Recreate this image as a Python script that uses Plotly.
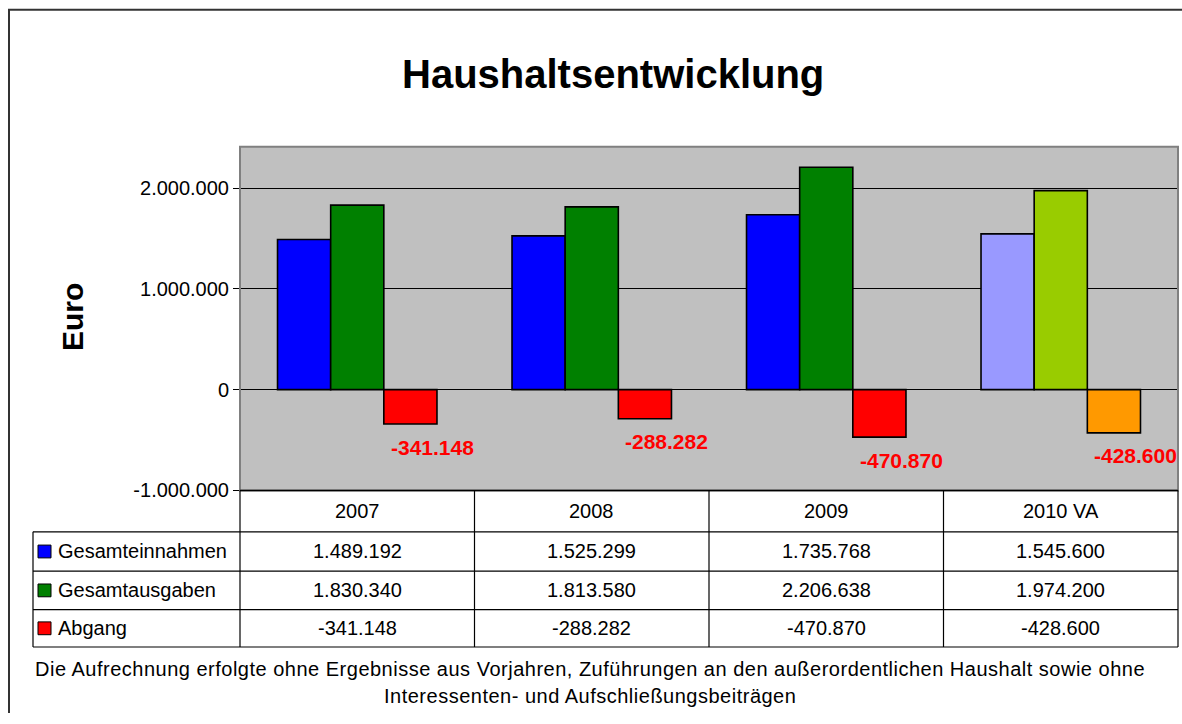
import plotly.graph_objects as go

years = ["2007", "2008", "2009", "2010 VA"]
series_names = ["Gesamteinnahmen", "Gesamtausgaben", "Abgang"]
einnahmen = [1489192, 1525299, 1735768, 1545600]
ausgaben = [1830340, 1813580, 2206638, 1974200]
abgang = [-341148, -288282, -470870, -428600]
y_ticks = [-1000000, 0, 1000000, 2000000]

title_text = "Haushaltsentwicklung"
y_title = "Euro"
footnote = ["Die Aufrechnung erfolgte ohne Ergebnisse aus Vorjahren, Zuführungen an den außerordentlichen Haushalt sowie ohne",
            "Interessenten- und Aufschließungsbeiträgen"]

# styles
base_colors = ["#0000FF", "#008000", "#FF0000"]
plan_colors = ["#9999FF", "#99CC00", "#FF9900"]
FONT = "Liberation Sans, Arial, sans-serif"
W, H = 1182, 724

def px(x):
    return x / W

def py(y):
    return 1 - y / H

def de(v):
    return f"{v:,}".replace(",", ".")

def txt(x, y, text, size=20, color="black", xanchor="center", **kw):
    return dict(x=px(x), y=py(y), xref="paper", yref="paper", text=text, showarrow=False,
                xanchor=xanchor, yanchor="middle", font=dict(family=FONT, size=size, color=color), **kw)

series = [einnahmen, ausgaben, abgang]
fig = go.Figure()
for i, (name, vals) in enumerate(zip(series_names, series)):
    cols = [plan_colors[i] if yr.endswith("VA") else base_colors[i] for yr in years]
    fig.add_trace(go.Bar(x=years, y=vals, name=name,
                         marker=dict(color=cols, line=dict(color="black", width=1.6))))

PL, PR, PT, PB = 240, 1178, 149, 498

annotations = []
# data labels for Abgang (x given as category index)
for idx, v in enumerate(abgang):
    annotations.append(dict(x=idx, y=v, xref="x", yref="y", text=f"<b>{de(v)}</b>",
                            showarrow=False, xshift=75, yshift=-23, xanchor="center", yanchor="middle",
                            font=dict(family=FONT, size=21, color="#FF0000")))

annotations.append(txt(613, 75, f"<b>{title_text}</b>", size=40))
annotations.append(txt(72, 322, f"<b>{y_title}</b>", size=30, textangle=-90))

shapes = []
line_col = "black"
# outer frame
shapes.append(dict(type="line", xref="paper", yref="paper", x0=px(8), x1=px(W), y0=py(10), y1=py(10),
                   line=dict(color="#333333", width=2)))
shapes.append(dict(type="line", xref="paper", yref="paper", x0=px(9), x1=px(9), y0=py(10), y1=py(H),
                   line=dict(color="#333333", width=2)))
# plot area border (gray)
shapes.append(dict(type="rect", xref="paper", yref="paper", x0=px(PL), x1=px(PR), y0=py(PB), y1=py(PT),
                   line=dict(color="#808080", width=2), layer="above"))

# table grid
col_w = (PR - PL) / len(years)
col_x = [PL + i * col_w for i in range(len(years) + 1)]
row_y = [PB, 540, 580, 619, 657]
TL = 33
shapes.append(dict(type="line", xref="paper", yref="paper", x0=px(PL), x1=px(PR), y0=py(PB), y1=py(PB),
                   line=dict(color=line_col, width=1.5)))
for ry in row_y[1:]:
    shapes.append(dict(type="line", xref="paper", yref="paper", x0=px(TL), x1=px(PR), y0=py(ry), y1=py(ry),
                       line=dict(color=line_col, width=1.2)))
shapes.append(dict(type="line", xref="paper", yref="paper", x0=px(TL), x1=px(TL), y0=py(row_y[1]), y1=py(row_y[-1]),
                   line=dict(color=line_col, width=1.2)))
for cx in col_x:
    shapes.append(dict(type="line", xref="paper", yref="paper", x0=px(cx), x1=px(cx), y0=py(PB), y1=py(row_y[-1]),
                       line=dict(color=line_col, width=1.2)))

# header row
for i, yr in enumerate(years):
    cx = (col_x[i] + col_x[i + 1]) / 2
    annotations.append(txt(cx, (row_y[0] + row_y[1]) / 2, yr))
# data rows
for r, (name, vals) in enumerate(zip(series_names, series)):
    cy = (row_y[r + 1] + row_y[r + 2]) / 2
    shapes.append(dict(type="rect", xref="paper", yref="paper", x0=px(38), x1=px(51), y0=py(cy + 6.5), y1=py(cy - 6.5),
                       fillcolor=base_colors[r], line=dict(color="black", width=1)))
    annotations.append(txt(56, cy, name, xanchor="left"))
    for i, v in enumerate(vals):
        cx = (col_x[i] + col_x[i + 1]) / 2
        annotations.append(txt(cx, cy, de(v)))

# footnote
for t, yy in zip(footnote, [679, 707]):
    annotations.append(txt(590, yy, f"<span style='letter-spacing:0.5px'>{t}</span>", size=20))

fig.update_layout(
    width=W, height=H, margin=dict(l=0, r=0, t=0, b=0),
    paper_bgcolor="white", plot_bgcolor="#C0C0C0",
    barmode="group", bargap=0.32, bargroupgap=0,
    showlegend=False, separators=",.",
    xaxis=dict(type="category", domain=[px(PL), px(PR)], range=[-0.5, len(years) - 0.5],
               showticklabels=False, ticks="", showgrid=False, zeroline=False, fixedrange=True),
    yaxis=dict(domain=[py(PB), py(PT)], range=[-1000000, 2410000], tickvals=y_ticks,
               ticktext=[de(v) for v in y_ticks], showgrid=True, gridcolor="black", gridwidth=1,
               zeroline=True, zerolinecolor="black", zerolinewidth=1,
               ticks="outside", ticklen=6, tickcolor="black",
               tickfont=dict(family=FONT, size=20, color="black")),
    annotations=annotations, shapes=shapes,
)

fig.write_html("out.html", post_script="document.body.style.margin='0';",
               config={"displayModeBar": False})
